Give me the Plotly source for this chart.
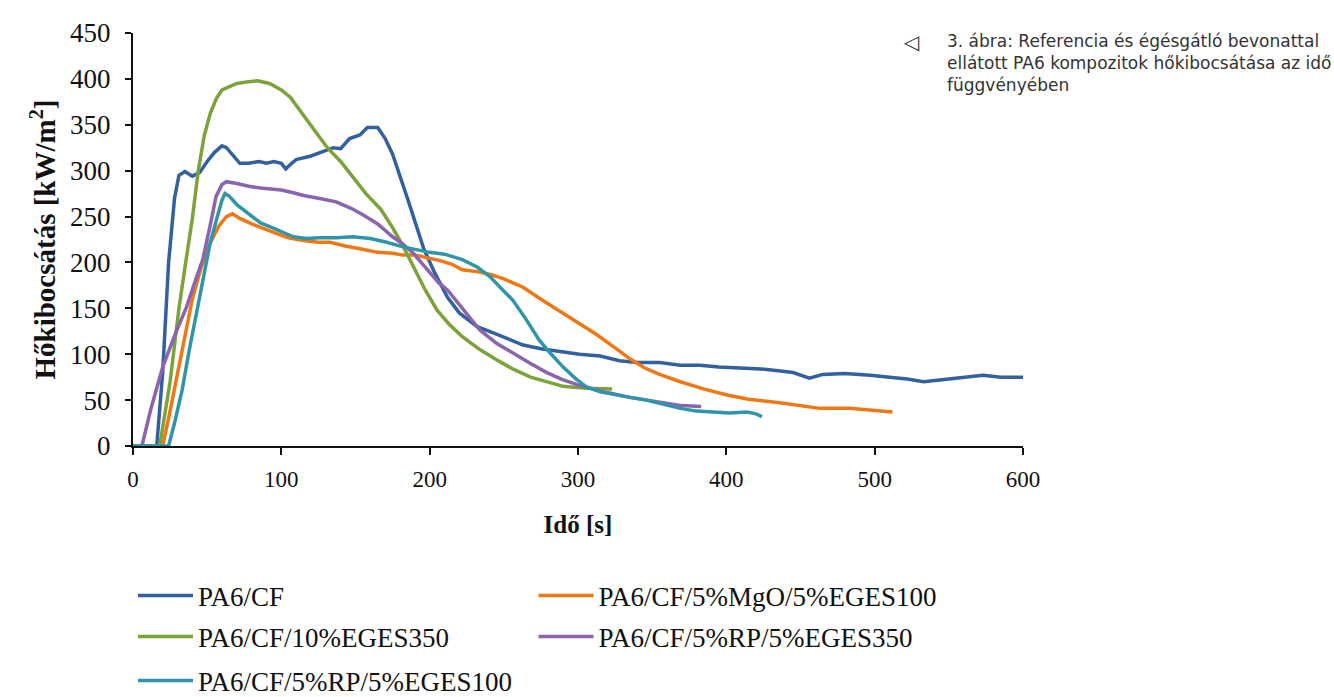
import plotly.graph_objects as go

# ---- data ----
names = ["PA6/CF", "PA6/CF/5%MgO/5%EGES100", "PA6/CF/10%EGES350",
         "PA6/CF/5%RP/5%EGES350", "PA6/CF/5%RP/5%EGES100"]

cf_x = [0, 16, 20, 24, 28, 31, 35, 40, 45, 50, 55, 60, 63, 68, 72, 78, 85, 90, 95, 100, 103, 107,
        110, 120, 126, 135, 140, 146, 153, 158, 165, 170, 175, 180, 185, 190, 196, 203, 212, 220,
        232, 245, 255, 263, 275, 290, 301, 315, 328, 340, 355, 369, 382, 395, 410, 423, 435, 445,
        456, 465, 480, 490, 497, 510, 522, 533, 545, 560, 573, 585, 600]
cf_y = [0, 0, 80, 200, 270, 295, 299, 294, 298, 310, 320, 327, 325, 315, 308, 308, 310, 308, 310, 308, 302, 308,
        312, 316, 320, 325, 324, 335, 339, 347, 347, 335, 318, 295, 270, 245, 215, 190, 162, 145,
        130, 122, 115, 110, 106, 102, 100, 98, 93, 91, 91, 88, 88, 86, 85, 84, 82, 80,
        74, 78, 79, 78, 77, 75, 73, 70, 72, 75, 77, 75, 75]

mgo_x = [0, 20, 24, 30, 35, 40, 46, 52, 58, 63, 67, 72, 80, 86, 95, 104, 115, 125, 133, 143, 153, 165,
         175, 182, 190, 200, 207, 215, 222, 232, 241, 250, 263, 275, 288, 301, 312, 325, 335, 345,
         355, 369, 385, 402, 415, 436, 450, 463, 483, 495, 512]
mgo_y = [0, 0, 30, 80, 120, 160, 195, 221, 240, 250, 253, 248, 242, 238, 232, 227, 224, 222, 222, 218, 215, 211,
         210, 208, 208, 205, 202, 198, 192, 190, 187, 182, 173, 160, 147, 134, 122, 107, 95, 85,
         78, 70, 62, 55, 51, 47, 44, 41, 41, 39, 37]

eg350_x = [0, 18, 25, 31, 36, 40, 44, 48, 52, 56, 60, 64, 70, 78, 84, 92, 100, 106, 112, 117, 124, 131,
           140, 148, 157, 167, 175, 182, 190, 197, 205, 213, 222, 233, 245, 256, 268, 280, 290, 305, 323]
eg350_y = [0, 0, 70, 150, 205, 248, 300, 338, 362, 378, 388, 391, 395, 397, 398, 395, 388, 380, 367, 355, 340, 325,
           310, 293, 275, 258, 238, 218, 192, 170, 148, 133, 119, 106, 94, 84, 75, 69, 65, 63, 62]

rp350_x = [0, 6, 12, 20, 28, 36, 42, 47, 52, 56, 60, 63, 70, 78, 86, 95, 100, 108, 115, 125, 137, 147,
           155, 165, 175, 182, 189, 198, 206, 212, 222, 234, 245, 256, 268, 279, 290, 301, 318, 335,
           357, 370, 383]
rp350_y = [0, 0, 40, 86, 120, 151, 180, 203, 240, 272, 285, 288, 286, 283, 281, 280, 279, 276, 273, 270, 266, 259,
           252, 242, 228, 220, 210, 193, 178, 170, 150, 126, 112, 101, 90, 80, 72, 66, 59, 53,
           47, 44, 43]

rp100_x = [0, 24, 28, 33, 38, 43, 48, 52, 56, 60, 62, 65, 70, 77, 86, 95, 108, 117, 126, 137, 148, 160,
           171, 182, 193, 200, 210, 222, 232, 241, 248, 256, 265, 274, 282, 290, 298, 306, 315, 324,
           335, 346, 358, 369, 380, 391, 402, 414, 420, 424]
rp100_y = [0, 0, 25, 60, 105, 148, 190, 221, 245, 268, 275, 272, 263, 254, 243, 237, 228, 226, 227, 227, 228, 226,
           222, 217, 213, 211, 209, 203, 195, 184, 172, 159, 138, 115, 100, 86, 74, 64, 59, 56,
           53, 50, 45, 41, 38, 37, 36, 37, 35, 32]

x_ticks = [0, 100, 200, 300, 400, 500, 600]
y_ticks = [0, 50, 100, 150, 200, 250, 300, 350, 400, 450]

series = [(cf_x, cf_y), (mgo_x, mgo_y), (eg350_x, eg350_y), (rp350_x, rp350_y), (rp100_x, rp100_y)]
colors = ["#33609E", "#F07814", "#7AA33A", "#8A64AE", "#2F95A8"]

serif = "Liberation Serif, Times New Roman, serif"
W, H = 1334, 697
L, R, T, B = 133, 311, 33, 251
PW, PH = W - L - R, H - T - B

# legend slot for each series: (column x in px, row centre y in px)
col_px = [133, 533.5]
row_px = [596, 637, 681]
slots = [(0, 0), (1, 0), (0, 1), (1, 1), (0, 2)]

fig = go.Figure()
legends = {}
for i, ((xs, ys), n, c, (ci, ri)) in enumerate(zip(series, names, colors, slots)):
    lid = "legend" if i == 0 else f"legend{i + 1}"
    fig.add_trace(go.Scatter(x=xs, y=ys, mode="lines", name=n, legend=lid,
                             line=dict(color=c, width=3.5)))
    legends[lid] = dict(orientation="h", xref="paper", x=(col_px[ci] - L) / PW, xanchor="left",
                        yref="container", y=1 - row_px[ri] / H, yanchor="middle",
                        itemwidth=55,
                        font=dict(family=serif, size=27, color="#111"),
                        bgcolor="rgba(0,0,0,0)")

fig.update_layout(
    width=W, height=H,
    margin=dict(l=L, r=R, t=T, b=B),
    paper_bgcolor="white", plot_bgcolor="white",
    showlegend=True,
    **legends,
    xaxis=dict(range=[0, 600], tickvals=x_ticks, ticks="outside", ticklen=7, tickwidth=2,
               tickcolor="#111", showline=True, linecolor="#111", linewidth=2,
               showgrid=False, zeroline=False, automargin=False, ticklabelstandoff=4,
               tickfont=dict(family=serif, size=23, color="#111"),
               title=dict(text="<b>Idő [s]</b>", font=dict(family=serif, size=25, color="#111"),
                          standoff=25)),
    yaxis=dict(range=[0, 450], tickvals=y_ticks, ticks="outside", ticklen=6, tickwidth=2,
               tickcolor="#111", showline=True, linecolor="#111", linewidth=2,
               showgrid=False, zeroline=False, automargin=False, ticklabelstandoff=9,
               tickfont=dict(family=serif, size=27, color="#111"),
               title=dict(text="<b>Hőkibocsátás [kW/m<sup>2</sup>]</b>",
                          font=dict(family=serif, size=29, color="#111"), standoff=6)),
)

fig.add_annotation(text="◁", xref="paper", yref="paper", x=(901 - L) / PW, y=(446 - 42) / PH,
                   xanchor="left", yanchor="middle", showarrow=False,
                   font=dict(family="DejaVu Sans", size=20, color="#333"))
fig.add_annotation(text="3. ábra: Referencia és égésgátló bevonattal<br>ellátott PA6 kompozitok hőkibocsátása az idő<br>függvényében",
                   xref="paper", yref="paper", x=(945 - L) / PW, y=(446 - 29) / PH,
                   xanchor="left", yanchor="top", align="left", showarrow=False,
                   font=dict(family="DejaVu Sans, Noto Sans, sans-serif", size=17, color="#333"))

fig.write_html("out.html", config={"displayModeBar": False},
               post_script="document.body.style.margin='0';document.body.style.overflow='hidden';")
